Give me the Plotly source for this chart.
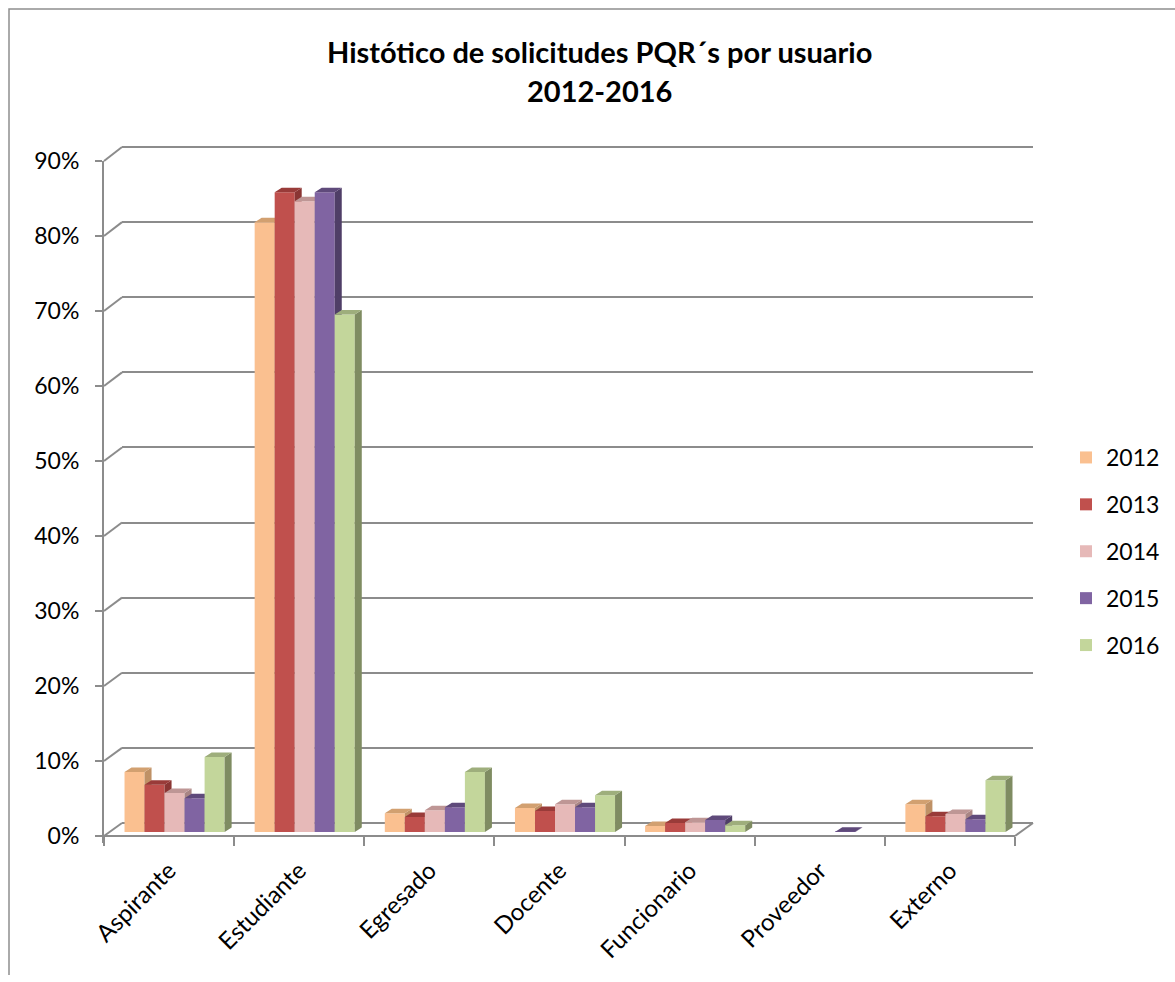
import plotly.graph_objects as go

# ---------------- data ----------------
categories = ["Aspirante", "Estudiante", "Egresado", "Docente", "Funcionario", "Proveedor", "Externo"]
series_names = ["2012", "2013", "2014", "2015", "2016"]
v2012 = [8.0, 81.3, 2.5, 3.2, 0.8, None, 3.7]
v2013 = [6.3, 85.3, 2.0, 2.8, 1.2, None, 2.1]
v2014 = [5.2, 84.1, 2.9, 3.7, 1.3, None, 2.4]
v2015 = [4.5, 85.3, 3.3, 3.3, 1.6, 0.05, 1.7]
v2016 = [10.0, 69.0, 8.0, 4.9, 0.9, None, 6.9]
series_values = [v2012, v2013, v2014, v2015, v2016]
y_ticks = [0, 10, 20, 30, 40, 50, 60, 70, 80, 90]
y_ticktext = [f"{t}%" for t in y_ticks]

# ---------------- style ----------------
front_colors = ["#FAC090", "#C0504D", "#E6B9B8", "#8064A2", "#C3D69B"]
cap_colors = ["#D2A070", "#993B39", "#BE9695", "#5F4A7B", "#9EAE7C"]
side_colors = ["#BF9166", "#8A3533", "#A98584", "#4F3E67", "#7F8C62"]
GRAY = "#8C8C8C"
FONT = "Lato"
W, H = 1175, 982


def px(p):
    return p / W


def py(p):
    return 1 - p / H


# geometry (pixels)
FX0, FX1 = 104, 1015          # front floor edge
FY0, FY90 = 836, 161          # front axis 0% and 90%
BX0, BX1 = 122, 1033          # back wall
BY0, BY90 = 823, 147          # back 0% and 90%
PPU = (FY0 - FY90) / 90.0     # pixels per percent
DEPTH_X = 5.5                 # bar plane offset
BAR_Y0 = 832

fig = go.Figure()

# dummy traces so that front & back axes exist
fig.add_trace(go.Scatter(x=categories, y=[None] * 7, xaxis="x", yaxis="y",
                         showlegend=False, hoverinfo="skip"))
fig.add_trace(go.Scatter(x=[0], y=[None], xaxis="x2", yaxis="y2",
                         showlegend=False, hoverinfo="skip"))

n = len(series_names)
w = 100 / 130 / n               # bar width in category units
ddx = 7 / 130                   # depth in x units
ddy = 4.5 / PPU                 # depth in %

for k, (name, vals) in enumerate(zip(series_names, series_values)):
    ax_id = k + 3
    xa, ya = f"x{ax_id}", f"y{ax_id}"
    xs = [i + (k - (n - 1) / 2) * w for i in range(len(categories))]
    fig.add_trace(go.Bar(
        x=xs, y=vals, width=w, name=name, xaxis=xa, yaxis=ya,
        marker=dict(color=front_colors[k], line=dict(width=0)),
        legendgroup=name,
        hovertemplate="%{customdata}: %{y:.1f}%<extra>" + name + "</extra>",
        customdata=categories,
    ))
    cap_x, cap_y, side_x, side_y = [], [], [], []
    for xc, v in zip(xs, vals):
        if v is None:
            continue
        x0, x1 = xc - w / 2, xc + w / 2
        cap_x += [x0, x1, x1 + ddx, x0 + ddx, x0, None]
        cap_y += [v, v, v + ddy, v + ddy, v, None]
        side_x += [x1, x1, x1 + ddx, x1 + ddx, x1, None]
        side_y += [0, v, v + ddy, ddy, 0, None]
    fig.add_trace(go.Scatter(x=side_x, y=side_y, xaxis=xa, yaxis=ya, mode="lines",
                             fill="toself", fillcolor=side_colors[k],
                             line=dict(width=0, color=side_colors[k]),
                             legendgroup=name, showlegend=False, hoverinfo="skip"))
    fig.add_trace(go.Scatter(x=cap_x, y=cap_y, xaxis=xa, yaxis=ya, mode="lines",
                             fill="toself", fillcolor=cap_colors[k],
                             line=dict(width=0, color=cap_colors[k]),
                             legendgroup=name, showlegend=False, hoverinfo="skip"))

layout = dict(
    template="none",
    width=W, height=982,
    margin=dict(l=0, r=0, t=0, b=0, pad=0, autoexpand=False),
    paper_bgcolor="white", plot_bgcolor="rgba(0,0,0,0)",
    font=dict(family=FONT, size=22, color="black"),
    barmode="overlay",
    showlegend=True,
    legend=dict(x=px(1066), y=py(436), xanchor="left", yanchor="top",
                font=dict(family=FONT, size=23, color="black"),
                traceorder="grouped", tracegroupgap=14, itemwidth=30,
                bgcolor="rgba(0,0,0,0)", borderwidth=0),
    # front axes
    xaxis=dict(domain=[px(FX0), px(FX1)], anchor="free", position=py(FY0),
               type="category", categoryorder="array", categoryarray=categories,
               range=[-0.5, len(categories) - 0.5], tickson="boundaries",
               ticks="outside", ticklen=9, tickwidth=2, tickcolor=GRAY,
               showline=True, linecolor=GRAY, linewidth=2, showgrid=False,
               zeroline=False, tickangle=-45, tickfont=dict(size=24),
               ticklabelstandoff=10, automargin=False, fixedrange=True),
    yaxis=dict(domain=[py(843), py(FY90)], anchor="x",
               range=[-(843 - FY0) / PPU, 90], tickmode="array",
               tickvals=y_ticks, ticktext=y_ticktext, ticks="outside",
               ticklen=7, tickwidth=2, tickcolor=GRAY, showline=True,
               linecolor=GRAY, linewidth=2, showgrid=False, zeroline=False,
               ticklabelstandoff=11, tickfont=dict(size=23),
               automargin=False, fixedrange=True),
    # back wall
    xaxis2=dict(domain=[px(BX0), px(BX1)], anchor="y2", range=[0, 1],
                showgrid=False, showticklabels=False, ticks="", showline=False,
                zeroline=False, automargin=False, fixedrange=True),
    yaxis2=dict(domain=[py(BY0 + (BY0 - BY90) / 90), py(BY90 - (BY0 - BY90) / 90)],
                anchor="x2", range=[-1, 91], tickmode="array", tickvals=y_ticks,
                showgrid=True, gridcolor=GRAY, gridwidth=2,
                showticklabels=False, ticks="", showline=False, zeroline=False,
                automargin=False, fixedrange=True),
)
for k in range(n):
    ax_id = k + 3
    xd = dict(domain=[px(FX0 + DEPTH_X), px(FX1 + DEPTH_X)],
              range=[-0.5, len(categories) - 0.5], visible=False,
              fixedrange=True, automargin=False, anchor=f"y{ax_id}")
    yd = dict(domain=[py(BAR_Y0), py(BAR_Y0 - 92 * PPU)], range=[0, 92],
              visible=False, fixedrange=True, automargin=False,
              anchor=f"x{ax_id}")
    if k > 0:
        xd["overlaying"] = "x3"
        yd["overlaying"] = "y3"
    layout[f"xaxis{ax_id}"] = xd
    layout[f"yaxis{ax_id}"] = yd

fig.update_layout(**layout)

# decorative 3D edges: connectors from front ticks to back wall, right floor edge
shapes = []
for t in y_ticks:
    yf = FY0 - t * PPU
    yb = BY0 - t * (BY0 - BY90) / 90.0
    shapes.append(dict(type="line", xref="paper", yref="paper",
                       x0=px(FX0), y0=py(yf), x1=px(BX0), y1=py(yb),
                       line=dict(color=GRAY, width=2)))
shapes.append(dict(type="line", xref="paper", yref="paper",
                   x0=px(FX1), y0=py(FY0), x1=px(BX1), y1=py(BY0),
                   line=dict(color=GRAY, width=2)))
# chart border
shapes.append(dict(type="path", xref="paper", yref="paper",
                   path=f"M {px(9)},{py(975)} L {px(9)},{py(9)} L {px(1180)},{py(9)}",
                   line=dict(color="#8E8E8E", width=1.5)))
fig.update_layout(shapes=shapes)

fig.add_annotation(text="<b>Histótico de solicitudes PQR´s por usuario</b>",
                   xref="paper", yref="paper", x=px(599), y=py(52),
                   xanchor="center", yanchor="middle", showarrow=False,
                   font=dict(family=FONT, size=29, color="black"))
fig.add_annotation(text="<b>2012-2016</b>",
                   xref="paper", yref="paper", x=px(599), y=py(91),
                   xanchor="center", yanchor="middle", showarrow=False,
                   font=dict(family=FONT, size=29, color="black"))

fig.write_html("out.html")
